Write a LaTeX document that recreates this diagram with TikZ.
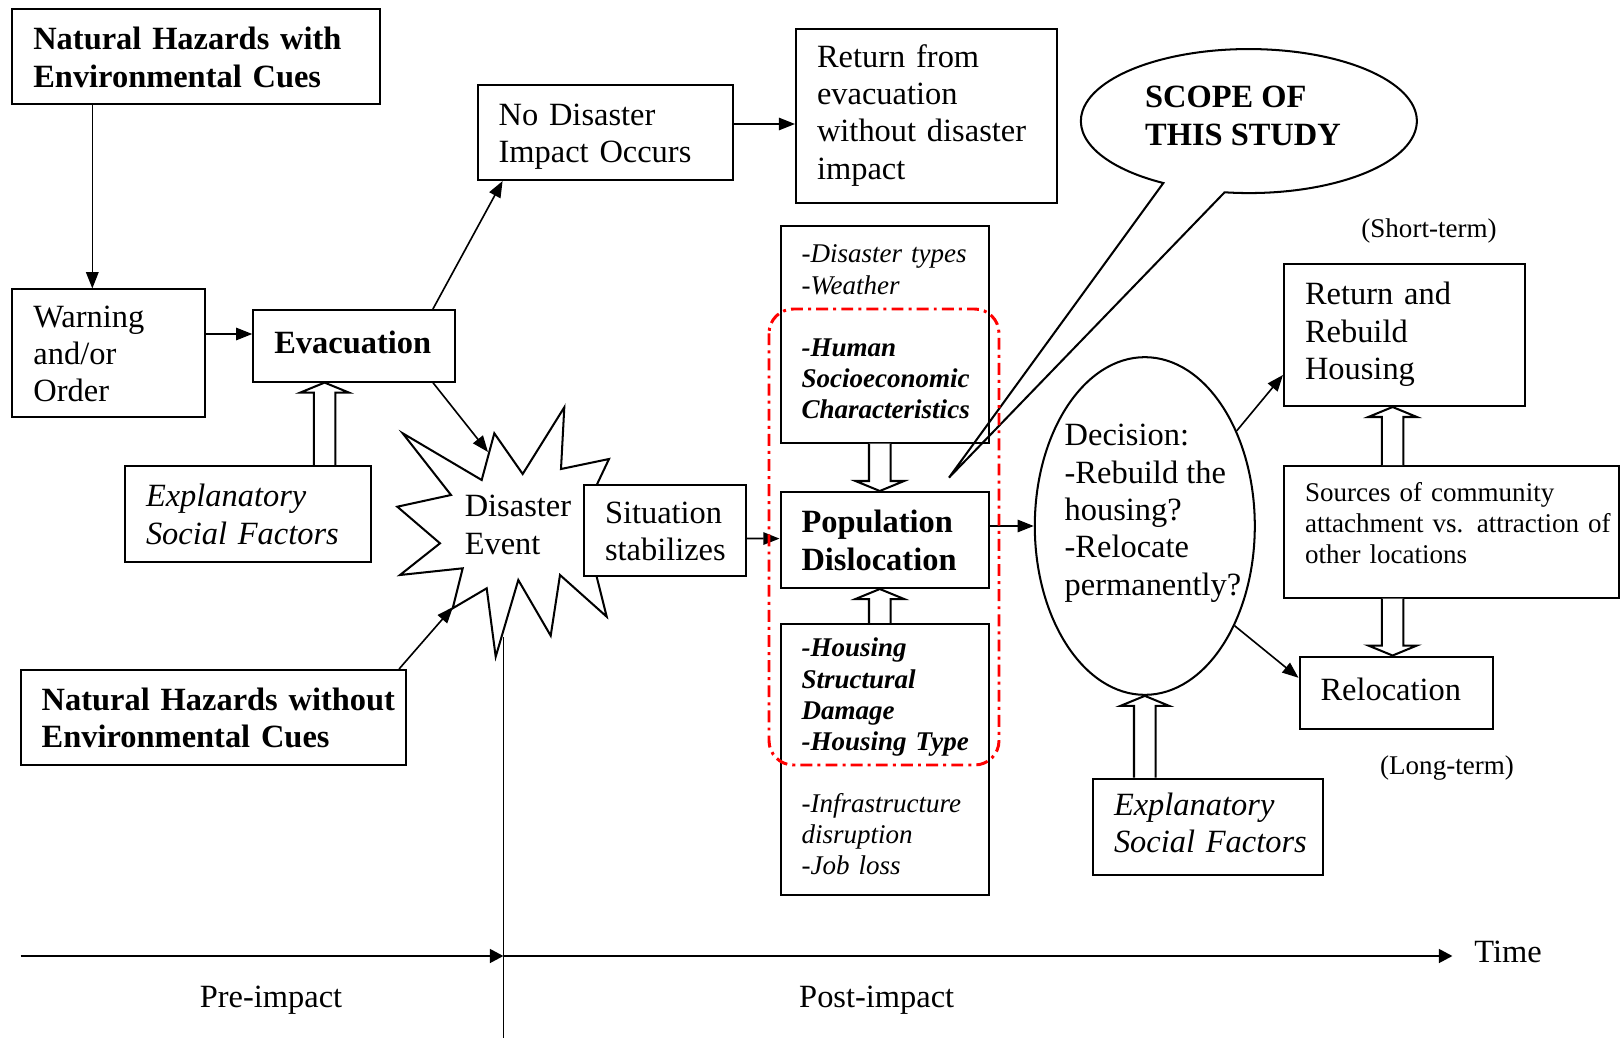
\documentclass[tikz,border=0pt]{standalone}
\usepackage{fontspec}
\setmainfont{Liberation Serif}
\usepackage{tikz}
\usetikzlibrary{shapes.geometric}
\usetikzlibrary{calc}
\usetikzlibrary{positioning, arrows.meta}

\newcommand{\topgap}{\rule{0pt}{12.7pt}}
\newcommand{\hollowarrow}[2]{%
    \draw[hollow] let \p1=(#1), \p2=(#2), \p3=($(#2)!3.7pt!(#1)$) in
        (\x1-4pt,\y1) -- (\x3-4pt,\y3) -- (\x3-9pt,\y3) -- (\p2)
        -- (\x3+9pt,\y3) -- (\x3+4pt,\y3) -- (\x1+4pt,\y1);}

\begin{document}
\begin{tikzpicture}[x=0.013cm, y=-0.013cm, font=\fontsize{12}{13.8}\selectfont]
        % Define styles for shapes
        \tikzstyle{box} = [draw, line width=0.75pt, inner xsep=0.273cm, inner ysep=0pt, align=left]
        \tikzstyle{smalltext} = [font=\fontsize{10}{11.5}\selectfont]
        \tikzstyle{decision} = [draw, ellipse, line width=0.75pt, minimum width=2.86cm, minimum height=4.39cm, inner sep=0pt]
        \tikzstyle{link} = [line width=0.6pt, -{Triangle[length=6pt, width=4.6pt]}]
        \tikzstyle{hollow} = [line width=0.75pt, fill=white]
        \tikzstyle{outline} = [line width=0.75pt]
        \tikzstyle{scopeline} = [red, line width=1.1pt, rounded corners=9pt, dash pattern=on 4.4pt off 1.9pt on 1.1pt off 1.9pt]
        \tikzstyle{timeline} = [line width=1pt, -{Triangle[length=5pt, width=5pt]}]

        \useasboundingbox (0,0) rectangle (1621,1038);

        % Draw shapes
        \draw[outline] (402.7,433.3) -- (481.7,480) -- (494.3,433.3) -- (522.7,474) -- (564.3,407.3)
            -- (561,469) -- (609,459) -- (589.6,500) -- (625,525) -- (590,550) -- (606.7,616.7)
            -- (560,575) -- (550.7,635.7) -- (518.3,580) -- (495.7,656.7) -- (486.7,588.3)
            -- (452.7,608.3) -- (462.7,568.3) -- (400,575) -- (440,543.3) -- (397.3,506.7)
            -- (451,495) -- cycle;
        \draw[outline] (1224.6,192.3) arc[start angle=98.3, end angle=-239.4, x radius=168, y radius=72]
            -- (949,477.6) -- cycle;

        \node[box, text width=4.24cm, minimum height=1.236cm] (hazard1) at (196.4,56.9) {
                \bfseries\begin{tabular}{@{}l@{}}
                    \topgap Natural Hazards with \\
                    Environmental Cues
                \end{tabular}
        };
        \node[box, text width=1.954cm, minimum height=1.652cm] (warning) at (108.6,353) {
                \begin{tabular}{@{}l@{}}
                    \topgap Warning \\
                    and/or \\
                    Order
                \end{tabular}
        };
        \node[box, text width=2.075cm, minimum height=0.93cm] (evacuation) at (354.1,345.8) {
                \bfseries\begin{tabular}{@{}l@{}}
                    Evacuation
                \end{tabular}
        };
        \node[box, text width=2.652cm, minimum height=1.248cm] (social1) at (248,514) {
                \itshape\begin{tabular}{@{}l@{}}
                    \topgap Explanatory \\
                    Social Factors
                \end{tabular}
        };
        \node[box, text width=2.774cm, minimum height=1.238cm] (nodisaster) at (605.3,132.4) {
                \begin{tabular}{@{}l@{}}
                    \topgap No Disaster \\
                    Impact Occurs
                \end{tabular}
        };
        \node[box, text width=2.841cm, minimum height=2.257cm] (returnevac) at (926.3,115.8) {
                \begin{tabular}{@{}l@{}}
                    Return from \\
                    evacuation \\
                    without disaster \\
                    impact
                \end{tabular}
        };
        \node[align=left] (scope) at (1247,119) {
                \bfseries\begin{tabular}{@{}l@{}}
                    SCOPE OF \\
                    THIS STUDY
                \end{tabular}
        };
        \node[box, smalltext, text width=2.165cm, minimum height=2.809cm] (factors1) at (884.8,334.5) {
                \itshape\begin{tabular}{@{}l@{}}
                    -Disaster types \\
                    -Weather \\
                    \\
                    \textbf{-Human} \\
                    \textbf{Socioeconomic} \\
                    \textbf{Characteristics}
                \end{tabular}
        };
        \node[box, text width=2.165cm, minimum height=1.248cm] (dislocation) at (884.8,540) {
                \bfseries\begin{tabular}{@{}l@{}}
                    \topgap Population \\
                    Dislocation
                \end{tabular}
        };
        \node[box, smalltext, text width=2.165cm, minimum height=3.523cm] (factors2) at (884.8,759.5) {
                \itshape\begin{tabular}{@{}l@{}}
                    \textbf{-Housing} \\
                    \textbf{Structural} \\
                    \textbf{Damage} \\
                    \textbf{-Housing Type} \\
                    \\
                    -Infrastructure \\
                    disruption \\
                    -Job loss
                \end{tabular}
        };
        \node[align=left] (disaster) at (522,528) {
                \begin{tabular}{@{}l@{}}
                    Disaster \\
                    Event
                \end{tabular}
        };
        \node[box, fill=white, text width=1.56cm, minimum height=1.183cm] (situation) at (665,530.5) {
                \begin{tabular}{@{}l@{}}
                    \topgap Situation \\
                    stabilizes
                \end{tabular}
        };
        \node[box, text width=4.463cm, minimum height=1.235cm] (hazard2) at (213.4,717.5) {
                \bfseries\begin{tabular}{@{}l@{}}
                    \topgap Natural Hazards without \\
                    Environmental Cues
                \end{tabular}
        };
        \node[decision] (decision) at (1144.8,526) {};
        \node[align=left] (decisiontext) at (1157,513) {
                \begin{tabular}{@{}l@{}}
                    Decision: \\
                    -Rebuild the \\
                    housing? \\
                    -Relocate \\
                    permanently?
                \end{tabular}
        };
        \node[box, text width=2.587cm, minimum height=1.851cm] (rebuild) at (1404.5,334.8) {
                \begin{tabular}{@{}l@{}}
                    Return and \\
                    Rebuild \\
                    Housing
                \end{tabular}
        };
        \node[box, smalltext, text width=3.809cm, minimum height=1.71cm] (sources) at (1451.5,531.8) {
                \begin{tabular}{@{}l@{}}
                    Sources of community \\
                    attachment vs. attraction of \\
                    other locations \\[4pt]
                \end{tabular}
        };
        \node[box, text width=1.97cm, minimum height=0.943cm] (relocation) at (1396.3,692.8) {
                \begin{tabular}{@{}l@{}}
                    Relocation
                \end{tabular}
        };
        \node[box, text width=2.444cm, minimum height=1.248cm] (social2) at (1208,826.6) {
                \itshape\begin{tabular}{@{}l@{}}
                    Explanatory \\
                    Social Factors
                \end{tabular}
        };
        \node[smalltext] (shortterm) at (1429,230.5) {(Short-term)};
        \node[smalltext] (longterm) at (1447,768) {(Long-term)};
        \node (timelabel) at (1508,952) {Time};
        \node (preimpact) at (271,1000.6) {Pre-impact};
        \node (postimpact) at (876.7,1000.6) {Post-impact};

        % Points on the burst and the time line
        \coordinate (disasterN) at (488,452);
        \coordinate (disasterSW) at (453,607);
        \coordinate (disasterS) at (503.5,637);
        \coordinate (bottom) at (503.5,1038);
        \coordinate (time0) at (20.7,956);
        \coordinate (timemid) at (503.5,956);
        \coordinate (time1) at (1452.5,956);

        % Draw arrows
        \coordinate (hazard1out) at ($(hazard1.south west)+(81,0)$);
        \draw[link] (hazard1out) -- (hazard1out |- warning.north);
        \draw[link] ($(warning.east)+(0,-19)$) -- ($(evacuation.west)+(0,-11.8)$);
        \draw[link] ($(evacuation.north east)+(-23,0)$) -- ($(nodisaster.south west)+(26,0)$);
        \draw[link] ($(evacuation.south east)+(-23,0)$) -- (disasterN);
        \draw[link] ($(hazard2.north east)+(-8,0)$) -- (disasterSW);
        \draw[link] ($(nodisaster.east)+(0,-8.4)$) -- ($(returnevac.west)+(0,8.2)$);
        \draw[link] ($(situation.east)+(0,8)$) -- ($(dislocation.west)+(0,-1.4)$);
        \draw[link] ($(dislocation.east)+(0,-14)$) -- (decision.west);
        \draw[link] (decision.46) -- ($(rebuild.south west)+(0,-32)$);
        \draw[link] (decision.-48) -- ($(relocation.west)+(0,-15)$);

        % Hollow arrows
        \coordinate (social1top) at ($(social1.north)+(76.6,0)$);
        \coordinate (evacuationin) at (social1top |- evacuation.south);
        \hollowarrow{social1top}{evacuationin}
        \coordinate (factors1bot) at ($(factors1.south)+(-5,0)$);
        \coordinate (dislocationtop) at (factors1bot |- dislocation.north);
        \hollowarrow{factors1bot}{dislocationtop}
        \coordinate (factors2top) at ($(factors2.north)+(-5,0)$);
        \coordinate (dislocationbot) at (factors2top |- dislocation.south);
        \hollowarrow{factors2top}{dislocationbot}
        \coordinate (social2top) at (decision.south |- social2.north);
        \hollowarrow{social2top}{decision.south}
        \coordinate (sourcestop) at ($(sources.north west)+(109.6,0)$);
        \coordinate (rebuildin) at (sourcestop |- rebuild.south);
        \hollowarrow{sourcestop}{rebuildin}
        \coordinate (sourcesbot) at ($(sources.south west)+(109.6,0)$);
        \coordinate (relocationin) at (sourcesbot |- relocation.north);
        \hollowarrow{sourcesbot}{relocationin}

        % Time line
        \draw[line width=0.4pt] (disasterS) -- (bottom);
        \draw[timeline] (time0) -- (timemid);
        \draw[timeline] (timemid) -- (time1);

        % Scope of the study
        \draw[scopeline] (769,309) rectangle (999,765);
    \end{tikzpicture}
\end{document}
